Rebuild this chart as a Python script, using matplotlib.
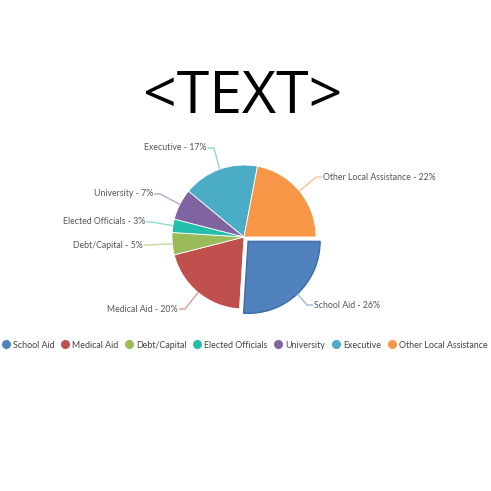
import numpy as np
import matplotlib.pyplot as plt
from matplotlib.lines import Line2D

# chart data
categories = ['School Aid', 'Medical Aid', 'Debt/Capital', 'Elected Officials',
              'University', 'Executive', 'Other Local Assistance']
shares = [26, 20, 5, 3, 7, 17, 22]
colors = ['#4F81BD', '#C0504D', '#9BBB59', '#23BFAA', '#8064A2', '#4BACC6', '#F79646']
line_colors = ['#9DB8DC', '#DC9C9A', '#C8DAA3', '#8EDCD1', '#B8A7CC', '#97D2E2', '#FAC293']
title_text = '<TEXT>'

# label anchor positions in pixels (x of text edge, y of baseline middle)
label_pos = [(314, 305), (178, 309), (143, 245), (145, 222),
             (153, 194), (207, 148), (323, 177)]
label_side = ['left', 'right', 'right', 'right', 'right', 'right', 'left']

W = 491
cx, cy, R = 244, 237, 72
explode = [6, 0, 0, 0, 0, 0, 0]  # pixels

fig = plt.figure(figsize=(W / 100, W / 100), dpi=100)
ax = fig.add_axes([0, 0, 1, 1])

wedges, _ = ax.pie(shares, colors=colors, startangle=0, counterclock=True,
                   center=(cx, cy), radius=R, explode=explode,
                   wedgeprops=dict(edgecolor='white', linewidth=0.6))
wedges[0].set_edgecolor('#3E6DA8')
wedges[0].set_linewidth(1.0)

ax.set_xlim(0, W)
ax.set_ylim(W, 0)
ax.set_aspect('equal')
ax.axis('off')

ax.text(243, 98, title_text, fontsize=42.5, family='Open Sans',
        ha='center', va='center', color='black')

# labels with leader lines
cum = np.cumsum([0] + shares[:-1])
total = sum(shares)
for i, (name, val) in enumerate(zip(categories, shares)):
    mid = np.deg2rad((cum[i] + val / 2) / total * 360)
    rr = R + explode[i]
    ex, ey = cx + rr * np.cos(mid), cy + rr * np.sin(mid)
    tx, ty = label_pos[i]
    if label_side[i] == 'left':
        elbow = tx - 7
        ha = 'left'
        tstart = tx - 1
    else:
        elbow = tx + 7
        ha = 'right'
        tstart = tx + 1
    ax.plot([ex, elbow, tstart], [ey, ty, ty], color=line_colors[i], lw=1.0,
            solid_capstyle='butt')
    ax.text(tx, ty, f'{name} - {val}%', fontsize=6.3, family='Lato',
            ha=ha, va='center', color='#555555')

handles = [Line2D([0], [0], marker='o', linestyle='none', markersize=5.5,
                  markerfacecolor=c, markeredgecolor=c) for c in colors]
fig.legend(handles, categories, loc='center', ncol=7,
           bbox_to_anchor=(245 / W, 1 - 345 / W), frameon=False,
           handlelength=0.7, handletextpad=0.45, columnspacing=0.85,
           prop=dict(family='Lato', size=6.4), labelcolor='#444444')

fig.savefig('out.png', dpi=100)
